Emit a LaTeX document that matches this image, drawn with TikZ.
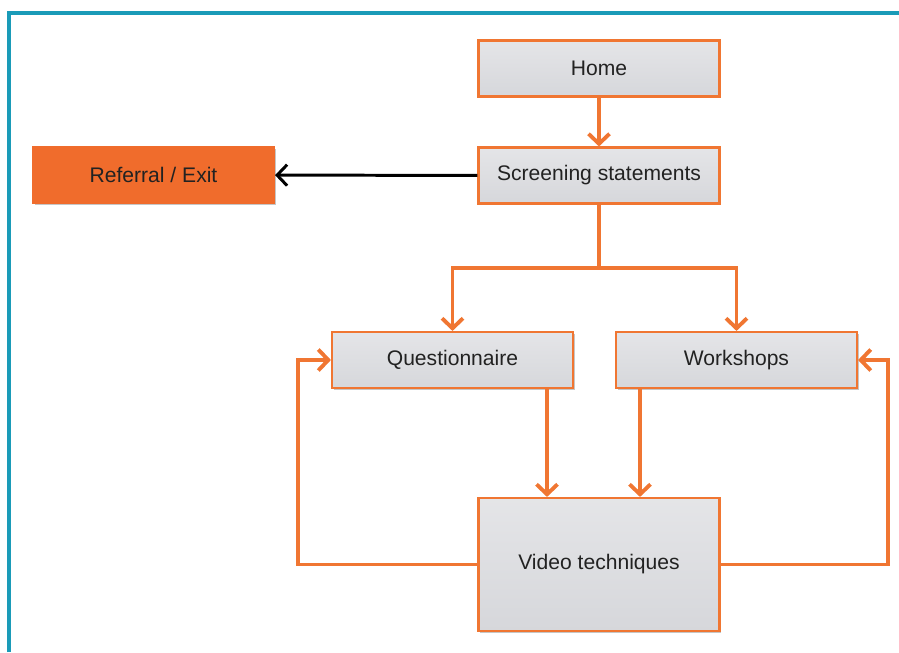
\documentclass[tikz,border=0pt]{standalone}
\usepackage{fontspec}
\setmainfont{Liberation Sans}
\usetikzlibrary{arrows.meta,shadows}

\definecolor{flowor}{RGB}{240,118,50}
\definecolor{exitor}{RGB}{240,108,44}
\definecolor{boxgray}{RGB}{214,215,219}
\definecolor{framecol}{RGB}{26,155,184}
\definecolor{txtcol}{RGB}{34,34,34}

\begin{document}
\begin{tikzpicture}[
	box/.style={draw=flowor, line width=1.2pt, top color=boxgray!65, bottom color=boxgray,
		minimum width=4.82cm, minimum height=1.12cm, font=\fontsize{12}{14}\selectfont, text=txtcol,
		drop shadow={opacity=0.45, shadow xshift=1pt, shadow yshift=-1pt}},
	exitbox/.style={box, fill=exitor, top color=exitor, bottom color=exitor, draw=exitor},
	flow/.style={draw=flowor, line width=2.2pt, -{Straight Barb[length=2mm,width=4.2mm]}},
	link/.style={draw=flowor, line width=2.2pt}
	]
	\useasboundingbox (0,0) rectangle (17.98,-13.04);
	\draw[framecol, line width=1.8pt] (0.18,-13.04) -- (0.18,-0.26) -- (17.98,-0.26);
	
	\node[box] (home) at (11.98,-1.37) {Home};
	\node[box] (screen) at (11.98,-3.51) {Screening statements};
	\node[exitbox] (exit) at (3.07,-3.5) {Referral / Exit};
	\node[box] (quest) at (9.05,-7.2) {Questionnaire};
	\node[box] (work) at (14.73,-7.2) {Workshops};
	\node[box, minimum height=2.66cm] (video) at (11.98,-11.29) {Video techniques};
	
	\coordinate (split) at (11.98,-5.36);
	\coordinate (qv) at (10.94,-7.76);
	\coordinate (wv) at (12.8,-7.76);
	\coordinate (lx) at (5.96,0);
	\coordinate (rx) at (17.76,0);
	
	\draw[flow] (home) -- (screen);
	\draw[black, line width=1.7pt, -{Straight Barb[length=2mm,width=4.2mm]}] (screen) -- (exit);
	\draw[link] (screen) -- (split);
	\draw[flow] (split) -| (quest.north);
	\draw[flow] (split) -| (work.north);
	\draw[flow] (qv) -- (qv |- video.north);
	\draw[flow] (wv) -- (wv |- video.north);
	\draw[flow] (video.west) -- (video.west -| lx) -- (lx |- quest.west) -- (quest.west);
	\draw[flow] (video.east) -- (video.east -| rx) -- (rx |- work.east) -- (work.east);
\end{tikzpicture}
\end{document}
